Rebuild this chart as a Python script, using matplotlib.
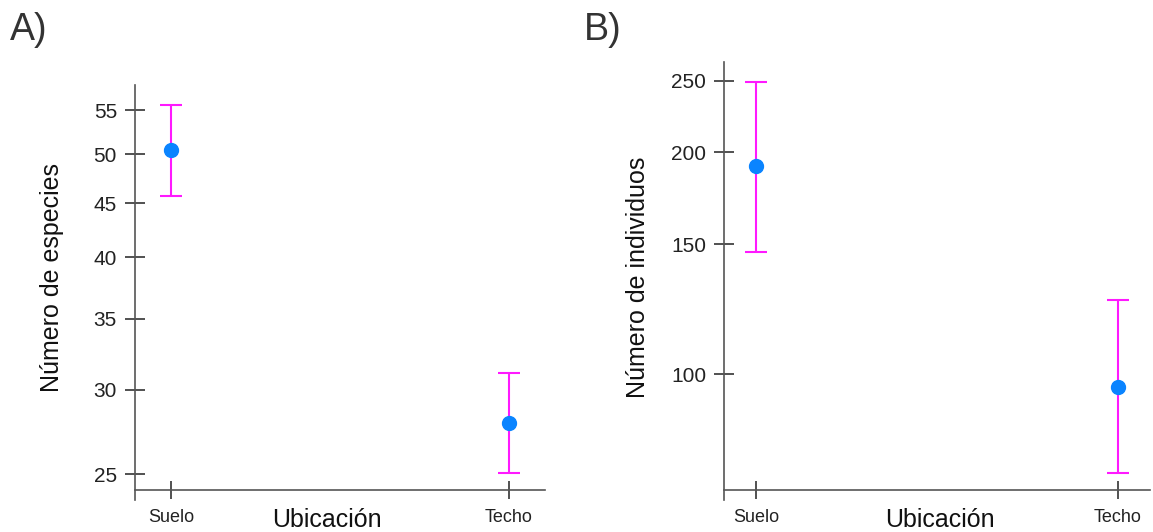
import matplotlib
matplotlib.use("Agg")
import matplotlib.pyplot as plt
from matplotlib.ticker import FixedLocator, NullLocator

plt.rcParams['font.family'] = ['Liberation Sans', 'DejaVu Sans']

# data (mean, lower, upper)
sitios = ["Suelo", "Techo"]
especies_media = [50.5, 27.9]
especies_inf = [45.7, 25.05]
especies_sup = [55.6, 31.1]
individuos_media = [191.6, 96.0]
individuos_inf = [146.4, 73.4]
individuos_sup = [249.0, 126.0]

ticks_especies = [25, 30, 35, 40, 45, 50, 55]
ticks_individuos = [100, 150, 200, 250]

spine_col = "#555555"
dot_col = "#0a84ff"
err_col = "#ff19ff"


def panel(ax, media, inf, sup, ticks, ylim, spine_low, xlim, ylabel, ycoords, xcoords):
    x = list(range(len(sitios)))
    yerr = [[m - l for m, l in zip(media, inf)], [u - m for m, u in zip(media, sup)]]
    ax.errorbar(x, media, yerr=yerr, fmt="none", ecolor=err_col, elinewidth=1.5,
                capsize=8, capthick=1.5, zorder=2)
    ax.plot(x, media, "o", color=dot_col, markersize=10, zorder=3)
    ax.set_yscale("log")
    ax.set_ylim(*ylim)
    ax.set_xlim(*xlim)
    ax.yaxis.set_major_locator(FixedLocator(ticks))
    ax.yaxis.set_minor_locator(NullLocator())
    ax.set_yticklabels([str(t) for t in ticks])
    ax.set_xticks(x)
    ax.set_xticklabels(sitios)
    for s in ["top", "right"]:
        ax.spines[s].set_visible(False)
    for s in ["left", "bottom"]:
        ax.spines[s].set_color(spine_col)
        ax.spines[s].set_linewidth(1.2)
    # left axis line runs a little below the bottom one
    ax.spines["left"].set_bounds(spine_low, ylim[1])
    ax.tick_params(axis="y", direction="inout", length=14, width=1.2,
                   color="#333333", labelsize=15, pad=6, labelcolor="#222222")
    ax.tick_params(axis="x", direction="inout", length=13, width=1.2,
                   color="#333333", labelsize=13, pad=7, labelcolor="#222222")
    ax.set_ylabel(ylabel, fontsize=18, color="#111111")
    ax.yaxis.set_label_coords(*ycoords)
    ax.set_xlabel("Ubicación", fontsize=18, color="#111111")
    ax.xaxis.set_label_coords(*xcoords)


fig = plt.figure(figsize=(11.53, 5.32), dpi=100)
ax1 = fig.add_axes([0.1171, 0.0789, 0.3556, 0.761])
ax2 = fig.add_axes([0.628, 0.0789, 0.3695, 0.8045])

panel(ax1, especies_media, especies_inf, especies_sup, ticks_especies,
      (24.15, 58.1), 23.63, (-0.107, 1.107), "Número de especies",
      (-0.173, 0.524), (0.468, -0.044))
panel(ax2, individuos_media, individuos_inf, individuos_sup, ticks_individuos,
      (69.6, 265), 67.5, (-0.089, 1.09), "Número de individuos",
      (-0.173, 0.498), (0.507, -0.042))

fig.text(0.009, 0.978, "A)", fontsize=27, color="#333333", va="top")
fig.text(0.506, 0.978, "B)", fontsize=27, color="#333333", va="top")

fig.savefig("out.png", dpi=100)
